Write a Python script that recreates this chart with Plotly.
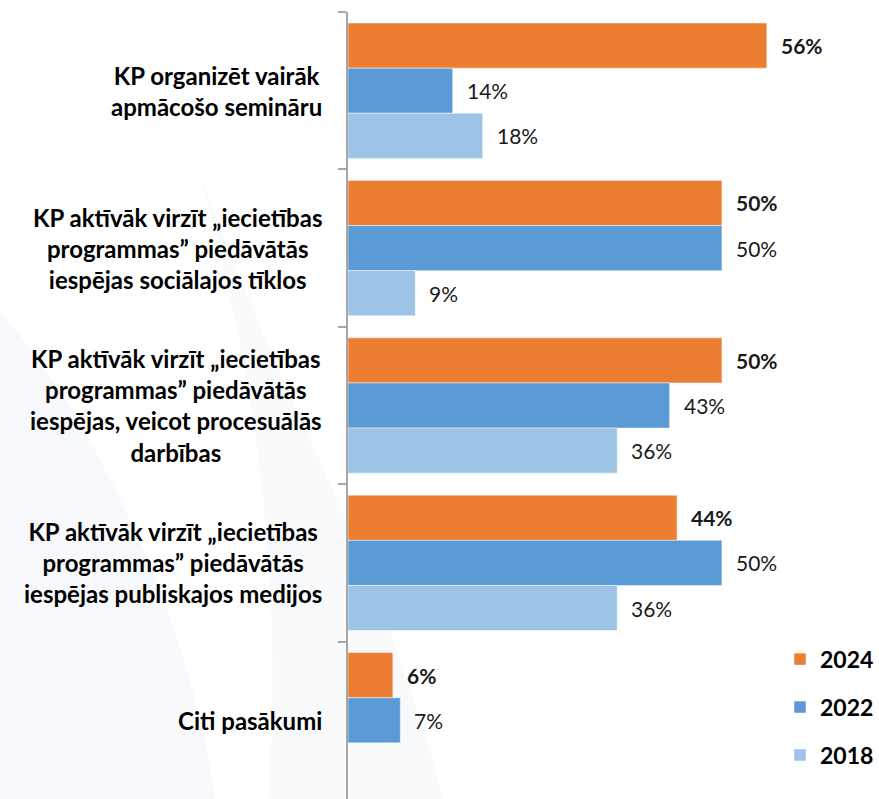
import plotly.graph_objects as go

# Survey answers: share of respondents per suggested measure, by survey year
categories = [
    "KP organizēt vairāk<br>apmācošo semināru",
    "KP aktīvāk virzīt „iecietības<br>programmas” piedāvātās<br>iespējas sociālajos tīklos",
    "KP aktīvāk virzīt „iecietības<br>programmas” piedāvātās<br>iespējas, veicot procesuālās<br>darbības",
    "KP aktīvāk virzīt „iecietības<br>programmas” piedāvātās<br>iespējas publiskajos medijos",
    "Citi pasākumi",
]
cat_ids = ["c1", "c2", "c3", "c4", "c5"]
years = ["2024", "2022", "2018"]
values_2024 = [56, 50, 50, 44, 6]
values_2022 = [14, 50, 43, 50, 7]
values_2018 = [18, 9, 36, 36, None]
series = [values_2024, values_2022, values_2018]
colors = ["#ED7D31", "#5B9BD5", "#9DC3E6"]
bold_labels = [True, False, False]

LABEL_FONT = "Lato"
BARGAP = 0.14

fig = go.Figure()
for i, (year, vals, col) in enumerate(zip(years, series, colors)):
    fig.add_trace(go.Bar(
        y=cat_ids, x=vals, name=year, orientation="h",
        marker=dict(color=col, line=dict(color="rgba(255,255,255,0.6)", width=0.8)),
        legendgroup=year,
        hoverinfo="skip",
    ))

# value labels next to each bar end
group_w = 1 - BARGAP
bar_w = group_w / len(series)
annotations = []
for i, vals in enumerate(series):
    offset = -group_w / 2 + bar_w * (i + 0.5)
    for j, v in enumerate(vals):
        if v is None:
            continue
        txt = f"{v}%"
        if bold_labels[i]:
            txt = f"<b>{txt}</b>"
        annotations.append(dict(
            x=v, y=j + offset, xref="x", yref="y", text=txt, showarrow=False,
            xanchor="left", yanchor="middle", xshift=12,
            font=dict(family=LABEL_FONT, size=21, color="#1a1a1a"),
        ))

# category labels, centred lines, right edge beside the axis
for j, cat in enumerate(categories):
    annotations.append(dict(
        x=0, y=j, xref="paper", yref="y", text=f"<b>{cat}</b>", showarrow=False,
        xanchor="right", yanchor="middle", align="center", xshift=-24,
        font=dict(family=LABEL_FONT, size=24, color="#000000"),
    ))

# faint bluish sheen in the lower-left background
shapes = [
    dict(type="path", xref="paper", yref="paper", layer="below",
         path="M -0.655 0.62 C -0.5 0.5, -0.3 0.25, -0.25 0 L -0.655 0 Z",
         fillcolor="rgba(222,229,240,0.22)", line=dict(width=0)),
    dict(type="path", xref="paper", yref="paper", layer="below",
         path="M -0.28 0.80 C -0.18 0.55, -0.12 0.3, -0.15 0 L 0.18 0 C 0.1 0.2, 0.0 0.35, -0.1 0.5 C -0.18 0.62, -0.24 0.72, -0.28 0.80 Z",
         fillcolor="rgba(226,234,245,0.25)", line=dict(width=0)),
]

fig.update_layout(
    width=879, height=799,
    margin=dict(l=348, r=0, t=12, b=0),
    paper_bgcolor="white", plot_bgcolor="rgba(0,0,0,0)",
    barmode="group", bargap=BARGAP, bargroupgap=0,
    showlegend=True,
    legend=dict(
        x=1.0, y=0.205, xanchor="right", yanchor="top",
        font=dict(family=LABEL_FONT, size=23, color="#000000", weight="bold"),
        tracegroupgap=15, traceorder="grouped", bgcolor="rgba(0,0,0,0)",
        itemwidth=30,
    ),
    xaxis=dict(range=[0, 71], visible=False, fixedrange=True),
    yaxis=dict(
        autorange="reversed", showticklabels=False,
        showline=True, linecolor="#A6A6A6", linewidth=2,
        ticks="outside", tickson="boundaries", ticklen=8, tickcolor="#A6A6A6", tickwidth=1.5,
        showgrid=False, zeroline=False, fixedrange=True,
    ),
    annotations=annotations,
    shapes=shapes,
)

fig.write_html("out.html")
